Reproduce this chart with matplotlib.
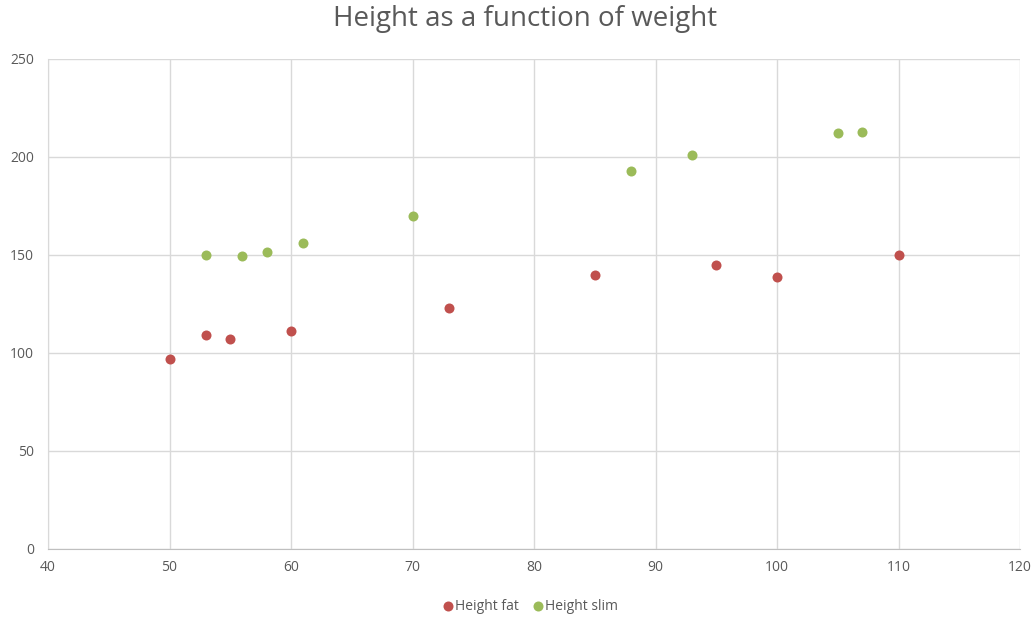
import matplotlib
matplotlib.use("Agg")
import matplotlib.pyplot as plt

plt.rcParams['font.family'] = ['Open Sans', 'DejaVu Sans']

weight_fat = [50, 53, 55, 60, 73, 85, 95, 100, 110]
height_fat = [97, 109, 107, 111, 123, 140, 145, 139, 150]
weight_slim = [53, 56, 58, 61, 70, 88, 93, 105, 107]
height_slim = [150, 149.5, 151.5, 156, 170, 193, 201, 212, 213]

x_ticks = [40, 50, 60, 70, 80, 90, 100, 110, 120]
y_ticks = [0, 50, 100, 150, 200, 250]

fig = plt.figure(figsize=(10.34, 6.17), dpi=100)
ax = fig.add_axes([48 / 1034, 68 / 617, 972 / 1034, 490 / 617])

grid_color = '#D9D9D9'
text_color = '#595959'

ax.scatter(weight_fat, height_fat, s=52, color='#C0504D', label='Height fat', zorder=3, linewidths=0)
ax.scatter(weight_slim, height_slim, s=52, color='#9BBB59', label='Height slim', zorder=3, linewidths=0)

ax.set_xlim(40, 120)
ax.set_ylim(0, 250)
ax.set_xticks(x_ticks)
ax.set_yticks(y_ticks)
ax.grid(True, color=grid_color, linewidth=1)
ax.set_axisbelow(True)
for side in ['top', 'right']:
    ax.spines[side].set_visible(False)
ax.spines['left'].set_color(grid_color)
ax.spines['bottom'].set_color('#BFBFBF')
ax.tick_params(axis='both', length=0, colors=text_color, labelsize=10, pad=8)
ax.tick_params(axis='y', pad=10)

fig.suptitle('Height as a function of weight', x=525 / 1034, y=1 - 19 / 617, va='center',
             fontsize=20, color=text_color)

leg = fig.legend(loc='center', bbox_to_anchor=(530 / 1034, 1 - 606 / 617), ncol=2, frameon=False,
                 fontsize=10, handlelength=0.8, handletextpad=0.1, columnspacing=1.0)
for t in leg.get_texts():
    t.set_color(text_color)

fig.savefig('out.png', dpi=100)
